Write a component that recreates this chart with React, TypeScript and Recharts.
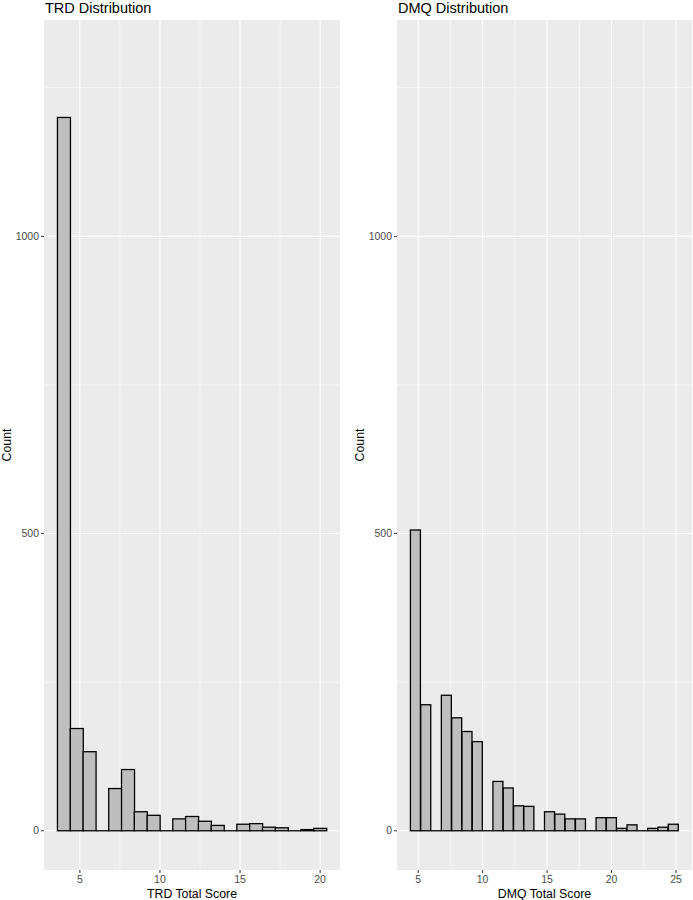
import React from "react";
import { BarChart, Bar, XAxis, YAxis, CartesianGrid, Label } from "recharts";

// bin centres (width 0.8) and counts
const trdScores = [4.0, 4.8, 5.6, 6.4, 7.2, 8.0, 8.8, 9.6, 10.4, 11.2, 12.0, 12.8, 13.6, 14.4, 15.2, 16.0, 16.8, 17.6, 18.4, 19.2, 20.0];
const trdCounts = [1200, 172, 133, 0, 71, 103, 32, 26, 0, 20, 24, 16, 9, 0, 11, 12, 6, 5, 0, 2, 4];

const dmqScores = [4.8, 5.6, 6.4, 7.2, 8.0, 8.8, 9.6, 10.4, 11.2, 12.0, 12.8, 13.6, 14.4, 15.2, 16.0, 16.8, 17.6, 18.4, 19.2, 20.0, 20.8, 21.6, 22.4, 23.2, 24.0, 24.8];
const dmqCounts = [506, 212, 0, 228, 190, 167, 150, 0, 83, 72, 42, 41, 0, 32, 28, 20, 20, 0, 22, 22, 4, 10, 0, 4, 6, 11];

const countTicks = [0, 500, 1000];
const countMinor = [250, 750, 1250];
const trdTicks = [5, 10, 15, 20];
const trdMinor = [7.5, 12.5, 17.5];
const dmqTicks = [5, 10, 15, 20, 25];
const dmqMinor = [7.5, 12.5, 17.5, 22.5];

const FONT = "'Liberation Sans', Arial, Helvetica, sans-serif";

const HistBar = (props: any) => {
  const { x, y, width, height } = props;
  if (!height) {
    return <line x1={x} x2={x + width} y1={y} y2={y} stroke="#000" strokeWidth={1.3} />;
  }
  return (
    <rect x={x} y={y} width={width} height={height} fill="#BEBEBE" stroke="#000" strokeWidth={1.3} />
  );
};

interface PanelProps {
  title: string;
  xTitle: string;
  scores: number[];
  counts: number[];
  xDomain: [number, number];
  xTicks: number[];
  xMinor: number[];
  left: number;
  width: number;
  yAxisWidth: number;
  marginRight: number;
  countX: number;
}

const Panel: React.FC<PanelProps> = ({
  title,
  xTitle,
  scores,
  counts,
  xDomain,
  xTicks,
  xMinor,
  left,
  width,
  yAxisWidth,
  marginRight,
  countX,
}) => {
  const data = scores.map((s, i) => ({ score: s, count: counts[i] }));
  const tickStyle = { fill: "#4D4D4D", fontSize: 10.5, fontFamily: FONT };
  return (
    <div style={{ position: "absolute", left, top: 0, width, height: 900 }}>
      <BarChart
        width={width}
        height={900}
        data={data}
        margin={{ top: 20, right: marginRight, left: 0, bottom: 0 }}
        barCategoryGap={0}
        barGap={0}
      >
        <CartesianGrid
          fill="#EBEBEB"
          stroke="#FFFFFF"
          strokeWidth={0.55}
          horizontalValues={countMinor}
          verticalValues={xMinor}
        />
        <CartesianGrid
          stroke="#FFFFFF"
          strokeWidth={1.1}
          horizontalValues={countTicks}
          verticalValues={xTicks}
        />
        <XAxis
          dataKey="score"
          type="number"
          domain={xDomain}
          ticks={xTicks}
          allowDataOverflow
          height={30}
          axisLine={false}
          tickLine={{ stroke: "#333333" }}
          tickSize={3}
          tickMargin={3}
          tick={tickStyle}
        >
          <Label
            content={({ viewBox }: any) => (
              <text
                x={viewBox.x + viewBox.width / 2}
                y={viewBox.y + 27.5}
                textAnchor="middle"
                fontSize={12.3}
                fontFamily={FONT}
                fill="#000"
              >
                {xTitle}
              </text>
            )}
          />
        </XAxis>
        <YAxis
          type="number"
          domain={[-66, 1364]}
          ticks={countTicks}
          allowDataOverflow
          width={yAxisWidth}
          axisLine={false}
          tickLine={{ stroke: "#333333" }}
          tickSize={3}
          tickMargin={2}
          tick={tickStyle}
        >
          <Label
            content={({ viewBox }: any) => {
              const cy = viewBox.y + viewBox.height / 2;
              return (
                <text
                  x={countX}
                  y={cy}
                  transform={`rotate(-90, ${countX}, ${cy})`}
                  textAnchor="middle"
                  fontSize={12.3}
                  fontFamily={FONT}
                  fill="#000"
                >
                  Count
                </text>
              );
            }}
          />
        </YAxis>
        <Bar dataKey="count" shape={HistBar} isAnimationActive={false} />
      </BarChart>
      <svg
        width={width}
        height={20}
        style={{ position: "absolute", left: 0, top: 0, pointerEvents: "none" }}
      >
        <text x={yAxisWidth + 1} y={13} fontSize={14.5} fontFamily={FONT} fill="#000">
          {title}
        </text>
      </svg>
    </div>
  );
};

export default function App() {
  return (
    <div
      style={{
        position: "absolute",
        left: 0,
        top: 0,
        width: 693,
        height: 900,
        background: "#FFFFFF",
        overflow: "hidden",
      }}
    >
      <Panel
        title="TRD Distribution"
        xTitle="TRD Total Score"
        scores={trdScores}
        counts={trdCounts}
        xDomain={[2.76, 21.24]}
        xTicks={trdTicks}
        xMinor={trdMinor}
        left={0}
        width={346}
        yAxisWidth={44}
        marginRight={6}
        countX={10.5}
      />
      <Panel
        title="DMQ Distribution"
        xTitle="DMQ Total Score"
        scores={dmqScores}
        counts={dmqCounts}
        xDomain={[3.36, 26.24]}
        xTicks={dmqTicks}
        xMinor={dmqMinor}
        left={350}
        width={343}
        yAxisWidth={47}
        marginRight={1}
        countX={13.5}
      />
    </div>
  );
}
